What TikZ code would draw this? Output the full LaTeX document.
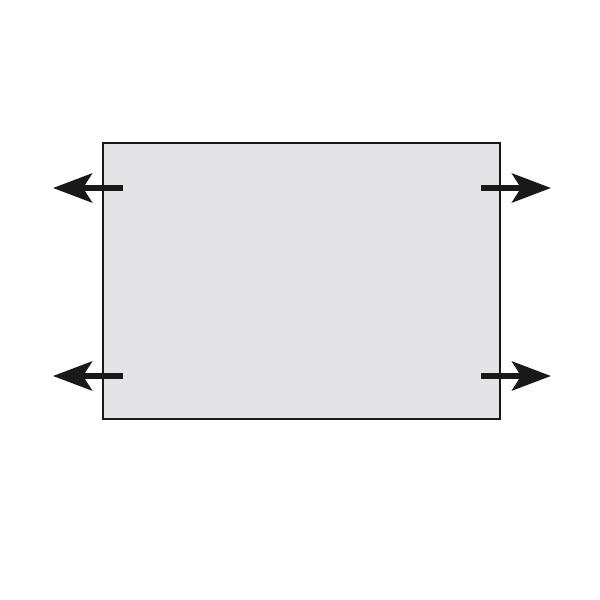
\documentclass[tikz,border=0pt]{standalone}
\usetikzlibrary{arrows.meta}
\definecolor{panelgray}{RGB}{228,228,230}
\definecolor{inkdark}{RGB}{26,24,25}
\begin{document}
\begin{tikzpicture}
[paneldecorate/.style={shape=rectangle,draw=inkdark,fill=panelgray,line width=0.85pt,
   minimum width=3.97cm,minimum height=2.76cm,inner sep=0pt},%
  pushdecorate/.style={-{Stealth[length=3.9mm,width=2.9mm,inset=0.9mm]},draw=inkdark,line width=1.7pt}]
\useasboundingbox (0,0) rectangle (6,6);
%% panel
\node (panel) at (3.015,3.19) [paneldecorate] {};
%% arrow ends
\foreach \nodename/\x/\y in {la/1.23/4.12, lb/1.23/2.24, ra/4.81/4.12, rb/4.81/2.24,
  lta/0.53/4.12, ltb/0.53/2.24, rta/5.51/4.12, rtb/5.51/2.24} {
  \coordinate (\nodename) at (\x,\y);
}
%% arrows
\foreach \startnode/\endnode in {la/lta, lb/ltb, ra/rta, rb/rtb} {
  \draw[pushdecorate] (\startnode) -- (\endnode);
}
\end{tikzpicture}
\end{document}
